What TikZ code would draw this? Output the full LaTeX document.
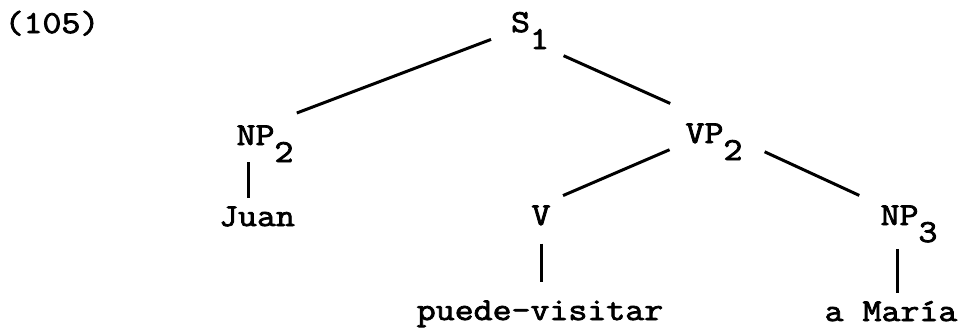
\documentclass[tikz,border=0pt]{standalone}
\usepackage{fontspec}
\newfontfamily\treefont{Latin Modern Mono}[FakeStretch=1.15,FakeBold=2.5]
\newcommand{\lowsub}[1]{\raisebox{-8.5pt}{#1}}

\begin{document}
\begin{tikzpicture}[x=0.5pt,y=-0.5pt,
  every node/.style={anchor=base, inner sep=0pt, font=\fontsize{16pt}{19pt}\selectfont\treefont},
  branch/.style={line width=1.5pt}]
\useasboundingbox (0,0) rectangle (960,328);
\node (ex) at (52,33) {(105)};
\node (S1) at (530,32) {S\lowsub{1}};
\node (NP2) at (265,145) {NP\lowsub{2}};
\node (VP2) at (714,143) {VP\lowsub{2}};
\node (Juan) at (257,226) {Juan};
\node (V) at (541,225) {V};
\node (NP3) at (909,225) {NP\lowsub{3}};
\node (puede) at (540,320) {puede-visitar};
\node (Maria) at (891,321) {a María};
% branches
\draw[branch, shorten <=10.5pt, shorten >=17pt] (S1.base west) -- (NP2.north);
\draw[branch, shorten <=29pt, shorten >=24pt] (S1.base west) -- (VP2.north);
\draw[branch, shorten <=8.5pt, shorten >=12pt] (VP2.base west) -- (V.north);
\draw[branch, shorten <=12pt, shorten >=11.5pt] (VP2.east) -- (NP3.north west);
\draw[branch, transform canvas={xshift=-8.5pt}, shorten >=4pt] (NP2.south) -- (NP2.south |- Juan.north);
\draw[branch, shorten <=9pt, shorten >=9pt] (V.south) -- (V.south |- puede.north);
\draw[branch, transform canvas={xshift=-6pt}, shorten <=3pt, shorten >=4pt] (NP3.south) -- (NP3.south |- Maria.north);
\end{tikzpicture}
\end{document}
